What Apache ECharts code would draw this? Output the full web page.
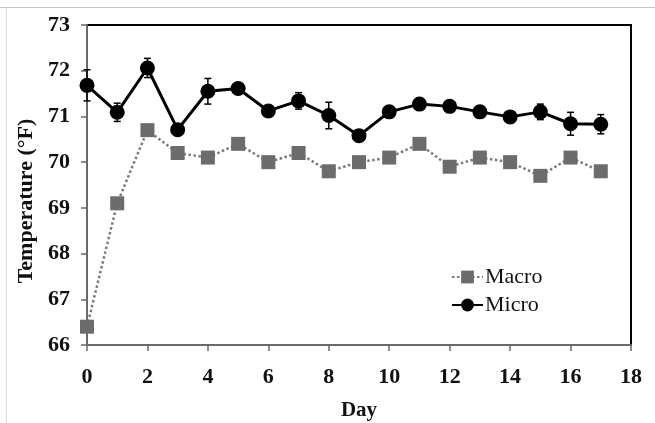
<!DOCTYPE html>
<html>
<head>
<meta charset="utf-8">
<script src="https://cdn.jsdelivr.net/npm/echarts@6/dist/echarts.min.js"></script>
<style>
html,body{margin:0;padding:0;background:#fff;}
#chart{width:655px;height:423px;}
</style>
</head>
<body>
<div id="chart"></div>
<script>
const days = [0,1,2,3,4,5,6,7,8,9,10,11,12,13,14,15,16,17];
const macro = [66.4,69.1,70.7,70.2,70.1,70.4,70.0,70.2,69.8,70.0,70.1,70.4,69.9,70.1,70.0,69.7,70.1,69.8];
const micro = [71.68,71.09,72.06,70.71,71.55,71.61,71.12,71.34,71.02,70.58,71.1,71.27,71.22,71.1,70.99,71.1,70.84,70.83];
const microErr = [0.34,0.2,0.21,0.06,0.28,0.06,0.06,0.18,0.29,0.06,0.06,0.06,0.06,0.06,0.06,0.17,0.25,0.21];
const yTicks = [66,67,68,69,70,71,72,73];
const xTicks = [0,2,4,6,8,10,12,14,16,18];

const font = '"Liberation Serif","Times New Roman",serif';
const chart = echarts.init(document.getElementById('chart'), null, {renderer:'canvas'});

const errData = days.map((d,i)=>[d, micro[i]-microErr[i], micro[i]+microErr[i]]);

chart.setOption({
  animation:false,
  backgroundColor:'#fff',
  graphic:[
    {type:'line', shape:{x1:0,y1:7.5,x2:655,y2:7.5}, style:{stroke:'#c4c4c4',lineWidth:1}, silent:true},
    {type:'line', shape:{x1:6.5,y1:7,x2:6.5,y2:423}, style:{stroke:'#dcdcdc',lineWidth:1}, silent:true}
  ],
  grid:{left:87,top:25,right:24,bottom:78,containLabel:false,outerBoundsMode:'none',show:true,borderColor:'#000',borderWidth:2,backgroundColor:'transparent'},
  legend:{
    left:446, top:261, orient:'vertical', itemGap:6, itemWidth:31, itemHeight:16,
    textStyle:{fontFamily:font,fontSize:22,color:'#111',padding:[0,0,0,-3]},
    data:['Macro','Micro']
  },
  xAxis:{
    type:'value', min:xTicks[0], max:xTicks[xTicks.length-1], interval:2,
    name:'Day', nameLocation:'middle', nameGap:55,
    nameTextStyle:{fontFamily:font,fontSize:21,fontWeight:'bold',color:'#111'},
    axisLine:{show:true,onZero:false,lineStyle:{color:'#6a6a6a',width:2}},
    axisTick:{show:true,inside:false,length:6,lineStyle:{color:'#6a6a6a',width:1.5}},
    axisLabel:{fontFamily:font,fontSize:22,fontWeight:'bold',color:'#111',margin:21},
    splitLine:{show:false}
  },
  yAxis:{
    type:'value', min:yTicks[0], max:yTicks[yTicks.length-1], interval:1,
    name:'Temperature (\u00B0F)', nameLocation:'middle', nameGap:45,
    nameTextStyle:{fontFamily:font,fontSize:22,fontWeight:'bold',color:'#111',padding:[0,32,0,0]},
    axisLine:{show:true,onZero:false,lineStyle:{color:'#6a6a6a',width:2}},
    axisTick:{show:true,inside:false,length:6,lineStyle:{color:'#6a6a6a',width:1.5}},
    axisLabel:{fontFamily:font,fontSize:22,fontWeight:'bold',color:'#111',margin:17},
    splitLine:{show:false}
  },
  series:[
    {
      name:'Macro', type:'line',
      data:days.map((d,i)=>[d,macro[i]]),
      symbol:'rect', symbolSize:14,
      itemStyle:{color:'#6c6c6c',borderWidth:0},
      lineStyle:{color:'#7a7a7a',width:2.5,type:[2.5,2.5]},
      z:3
    },
    {
      name:'Micro-err', type:'custom',
      data:errData,
      renderItem:function(params, api){
        const x = api.value(0);
        const lo = api.coord([x, api.value(1)]);
        const hi = api.coord([x, api.value(2)]);
        const c = 3.5;
        return {type:'group', children:[
          {type:'line', shape:{x1:lo[0],y1:lo[1],x2:hi[0],y2:hi[1]}, style:{stroke:'#000',lineWidth:1.5}},
          {type:'line', shape:{x1:lo[0]-c,y1:lo[1],x2:lo[0]+c,y2:lo[1]}, style:{stroke:'#000',lineWidth:1.5}},
          {type:'line', shape:{x1:hi[0]-c,y1:hi[1],x2:hi[0]+c,y2:hi[1]}, style:{stroke:'#000',lineWidth:1.5}}
        ]};
      },
      silent:true, z:4
    },
    {
      name:'Micro', type:'line',
      data:days.map((d,i)=>[d,micro[i]]),
      symbol:'circle', symbolSize:15,
      itemStyle:{color:'#000',borderWidth:0},
      lineStyle:{color:'#000',width:3},
      z:5
    }
  ]
});
</script>
</body>
</html>
